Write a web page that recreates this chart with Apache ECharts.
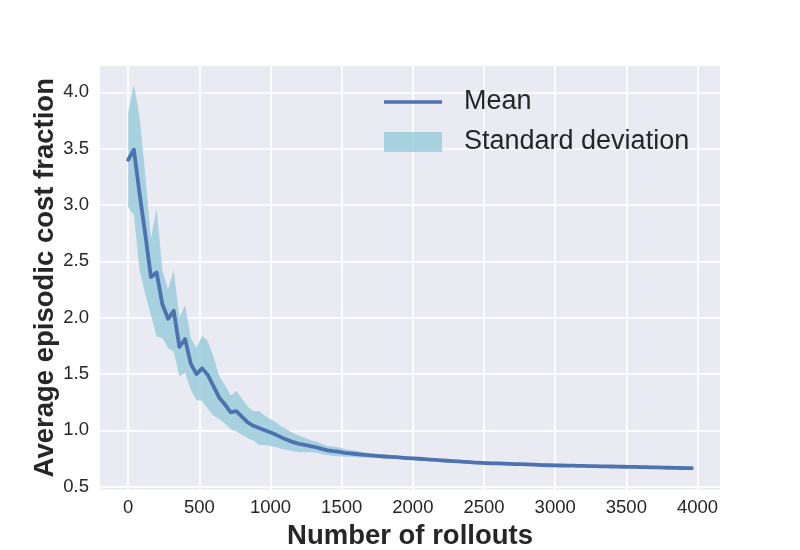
<!DOCTYPE html>
<html>
<head>
<meta charset="utf-8">
<script src="https://cdn.jsdelivr.net/npm/echarts@6/dist/echarts.min.js"></script>
<style>
html,body{margin:0;padding:0;background:#fff;}
#chart{width:800px;height:550px;}
</style>
</head>
<body>
<div id="chart"></div>
<script>
// Number of rollouts (x values)
const rollouts = [
  0,40,80,120,160,200,240,280,320,360,
  400,440,480,520,560,600,640,680,720,760,
  800,840,880,920,960,1000,1040,1080,1120,1160,
  1200,1240,1280,1320,1360,1400,1440,1480,1520,1560,
  1600,1640,1680,1720,1760,1800,1840,1880,1920,1960,
  2000,2040,2080,2120,2160,2200,2240,2280,2320,2360,
  2400,2440,2480,2520,2560,2600,2640,2680,2720,2760,
  2800,2840,2880,2920,2960,3000,3040,3080,3120,3160,
  3200,3240,3280,3320,3360,3400,3440,3480,3520,3560,
  3600,3640,3680,3720,3760,3800,3840,3880,3920,3960
];
// Mean average episodic cost fraction
const meanCost = [
  3.40,3.49,3.10,2.74,2.36,2.40,2.12,1.99,2.06,1.74,
  1.81,1.59,1.50,1.55,1.49,1.39,1.29,1.23,1.16,1.17,
  1.12,1.07,1.04,1.02,1.00,0.98,0.96,0.935,0.915,0.895,
  0.88,0.87,0.86,0.85,0.835,0.822,0.815,0.81,0.80,0.795,
  0.79,0.785,0.78,0.776,0.772,0.768,0.765,0.762,0.758,0.754,
  0.751,0.748,0.745,0.741,0.737,0.733,0.730,0.727,0.724,0.721,
  0.718,0.714,0.711,0.709,0.707,0.706,0.704,0.703,0.701,0.700,
  0.698,0.696,0.694,0.692,0.690,0.689,0.688,0.687,0.686,0.685,
  0.684,0.683,0.682,0.681,0.680,0.679,0.678,0.677,0.676,0.675,
  0.674,0.673,0.672,0.671,0.669,0.668,0.667,0.666,0.665,0.664
];
// Standard deviation around the mean
const stdCost = [
  0.42,0.58,0.68,0.53,0.34,0.57,0.30,0.26,0.36,0.26,
  0.30,0.23,0.23,0.29,0.30,0.26,0.19,0.17,0.15,0.18,
  0.16,0.14,0.13,0.15,0.13,0.12,0.11,0.10,0.09,0.08,
  0.075,0.065,0.055,0.05,0.045,0.04,0.042,0.04,0.035,0.03,
  0.028,0.025,0.022,0.02,0.018,0.017,0.016,0.016,0.015,0.015,
  0.014,0.014,0.013,0.013,0.012,0.012,0.012,0.011,0.011,0.011,
  0.011,0.010,0.010,0.010,0.010,0.010,0.010,0.010,0.010,0.010,
  0.010,0.010,0.010,0.010,0.010,0.010,0.010,0.009,0.009,0.009,
  0.009,0.009,0.009,0.009,0.009,0.009,0.009,0.009,0.009,0.009,
  0.008,0.008,0.008,0.008,0.008,0.008,0.008,0.008,0.008,0.008
];
const xTicks = [0,500,1000,1500,2000,2500,3000,3500,4000];
const yTicks = [0.5,1.0,1.5,2.0,2.5,3.0,3.5,4.0];

const meanData = rollouts.map((x,i)=>[x, meanCost[i]]);

const FONT = "'Liberation Sans', Arial, sans-serif";
const TXT = '#262626';
const bandColor = 'rgba(155,205,220,0.85)';
const lineColor = '#4c72b0';

const chart = echarts.init(document.getElementById('chart'), null, {renderer:'canvas'});
chart.setOption({
  animation:false,
  backgroundColor:'#ffffff',
  textStyle:{fontFamily:FONT},
  grid:{left:100,right:80,top:66,bottom:60.5,show:true,backgroundColor:'#eaeaf2',borderWidth:0,
        containLabel:false,outerBoundsMode:'none'},
  legend:{
    orient:'vertical', left:384, top:85, padding:0, itemWidth:58, itemHeight:20, itemGap:6,
    selectedMode:false,
    textStyle:{fontSize:27,color:TXT,fontFamily:FONT,lineHeight:30,padding:[4,0,0,17]},
    data:[
      {name:'Mean', icon:'path://M0,0 L58,0 L58,3.5 L0,3.5 Z', itemStyle:{color:lineColor}},
      {name:'Standard deviation', icon:'rect', itemStyle:{color:bandColor}}
    ]
  },
  xAxis:{
    type:'value', min:-198, max:4158, splitNumber:8,
    name:'Number of rollouts', nameLocation:'middle', nameGap:33, nameMoveOverlap:false,
    nameTextStyle:{fontSize:27.5,fontWeight:'bold',color:TXT,fontFamily:FONT},
    axisLine:{show:false}, axisTick:{show:false},
    axisLabel:{fontSize:18.5,color:TXT,margin:9,showMinLabel:false,showMaxLabel:false,fontFamily:FONT,
      formatter:v=>xTicks.includes(v)?String(v):''},
    splitLine:{show:true,showMinLine:false,showMaxLine:false,lineStyle:{color:'#ffffff',width:1.7}}
  },
  yAxis:{
    type:'value', min:0.475, max:4.233, splitNumber:8,
    name:'Average episodic cost fraction', nameLocation:'middle', nameGap:41, nameRotate:90, nameMoveOverlap:false,
    nameTextStyle:{fontSize:27.5,fontWeight:'bold',color:TXT,fontFamily:FONT},
    axisLine:{show:false}, axisTick:{show:false},
    axisLabel:{fontSize:18.5,color:TXT,margin:11,showMinLabel:false,showMaxLabel:false,fontFamily:FONT,
      formatter:v=>{const t=yTicks.find(k=>Math.abs(k-v)<1e-6);return t===undefined?'':t.toFixed(1);}},
    splitLine:{show:true,showMinLine:false,showMaxLine:false,lineStyle:{color:'#ffffff',width:1.7}}
  },
  series:[
    {
      name:'Standard deviation', type:'custom', silent:true, z:1,
      data:[[rollouts[0], meanCost[0]]],
      renderItem:(params, api)=>{
        const pts = [];
        for (let i=0;i<rollouts.length;i++) pts.push(api.coord([rollouts[i], meanCost[i]+stdCost[i]]));
        for (let i=rollouts.length-1;i>=0;i--) pts.push(api.coord([rollouts[i], meanCost[i]-stdCost[i]]));
        return {type:'polygon', shape:{points:pts}, style:{fill:bandColor, stroke:null}};
      },
      itemStyle:{color:bandColor}
    },
    {
      name:'Mean', type:'line', data:meanData, symbol:'none', showSymbol:false, z:3, color:lineColor,
      lineStyle:{color:lineColor,width:3.8,cap:'round',join:'round'}
    }
  ]
});
</script>
</body>
</html>
